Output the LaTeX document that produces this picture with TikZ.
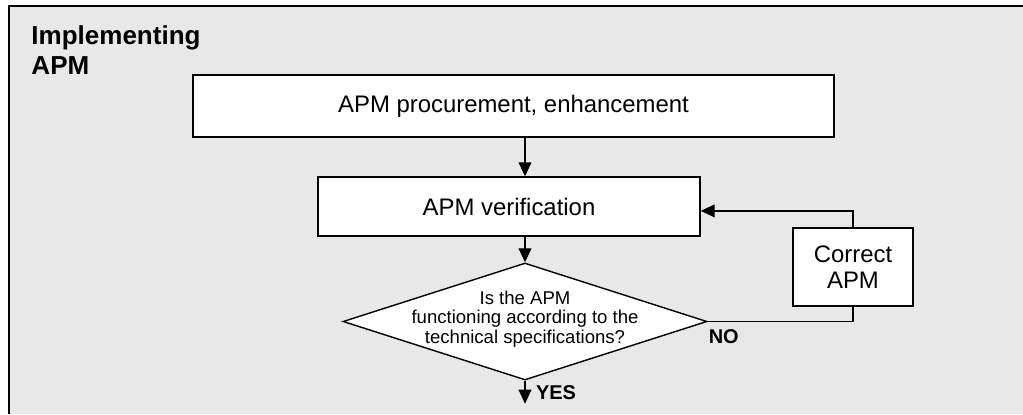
\documentclass[tikz,border=0pt]{standalone}
\usepackage{fontspec}
\setmainfont{Liberation Sans}
\definecolor{PanelGray}{RGB}{232, 232, 232}
\usetikzlibrary{arrows.meta, positioning, shapes.geometric, calc}

\begin{document}
\begin{tikzpicture}[
        stepbox/.style={draw, line width=1pt, fill=white, inner sep=0pt, font=\fontsize{17}{18.9}\selectfont, align=center},
        decision/.style={draw, diamond, line width=1pt, fill=white, inner sep=0pt, minimum width=9.1cm, minimum height=2.925cm},
        flow/.style={-{Triangle[length=0.35cm, width=0.32cm]}, line width=0.9pt},
        link/.style={line width=0.9pt},
        answer/.style={font=\fontsize{14.2}{15}\selectfont\bfseries, inner sep=0pt}
    ]
        \useasboundingbox (0, 0) rectangle (25.575, 10.35);
        % panel
        \fill[PanelGray] (0.225, 0) rectangle (25.575, 10.2);
        \draw[line width=1.4pt] (0.225, 0) |- (25.575, 10.2);
        \node[font=\fontsize{18.5}{21.3}\selectfont\bfseries, align=left, anchor=north west, inner sep=0pt] (title) at (0.78, 9.72) {Implementing\\APM};

        % flow
        \node[stepbox, minimum width=16.025cm, minimum height=1.55cm] (proc) at (12.8375, 7.7) {APM procurement, enhancement};
        \node[stepbox, minimum width=9.55cm, minimum height=1.475cm] (verif) at (12.725, 5.1875) {APM verification};
        \node[decision] (dec) at (13.125, 2.3125) {};
        \node[font=\fontsize{13.2}{14}\selectfont, align=center, inner sep=0pt] (question) at ([yshift=0.06cm]dec.center) {Is the APM\\functioning according to the\\technical specifications?};
        \node[stepbox, minimum width=3cm, minimum height=1.95cm] (fix) at (21.325, 3.675) {Correct\\APM};
        \coordinate (yesend) at ([yshift=-0.575cm]dec.south);

        \draw[flow] (proc.south -| dec.north) -- (verif.north -| dec.north);
        \draw[flow] (verif.south -| dec.north) -- (dec.north);
        \draw[link] (dec.east) -| (fix.south);
        \draw[flow] (fix.north) |- ([yshift=-0.11cm]verif.east);
        \draw[flow] (dec.south) -- (yesend);

        \node[answer, anchor=north west] (no) at ([xshift=0.02cm, yshift=-0.2cm]dec.east) {NO};
        \node[answer, anchor=west] (yes) at ([xshift=0.27cm, yshift=-0.3cm]dec.south) {YES};
    \end{tikzpicture}
\end{document}
